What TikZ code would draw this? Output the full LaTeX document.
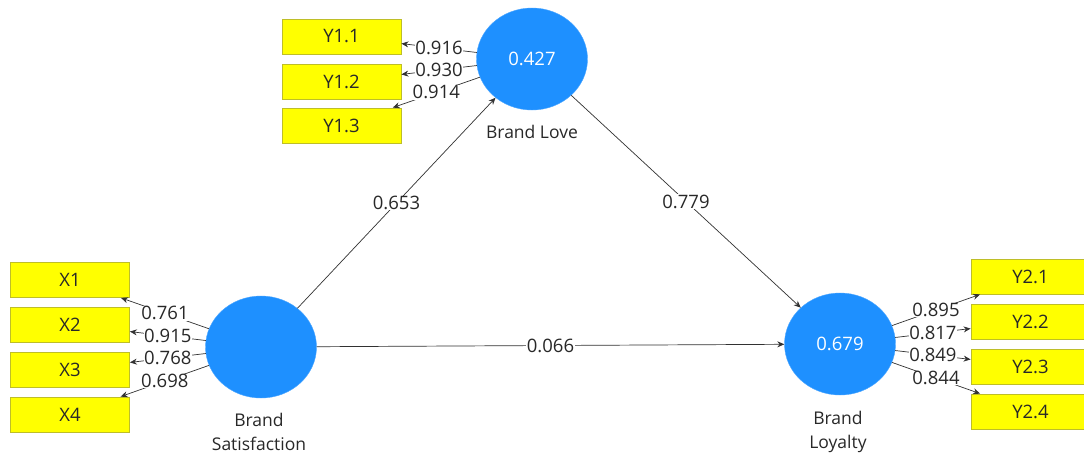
\documentclass[tikz,border=0pt]{standalone}
\usepackage{fontspec}
\setmainfont{Open Sans}
\usetikzlibrary{shapes.geometric,arrows.meta}
\definecolor{lvblue}{RGB}{30,144,255}
\definecolor{boxyellow}{RGB}{255,255,0}
\definecolor{boxborder}{RGB}{190,190,40}
\definecolor{linegray}{RGB}{50,50,50}
\definecolor{txtgray}{RGB}{40,40,40}
\tikzset{
  lv/.style={ellipse, fill=lvblue, draw=lvblue!80!white, minimum width=111pt, minimum height=102pt, inner sep=0pt, text=white, font=\fontsize{18.5}{22}\selectfont},
  mv/.style={rectangle, fill=boxyellow, draw=boxborder, line width=0.8pt, minimum width=119pt, minimum height=35pt, inner sep=0pt, text=txtgray, font=\fontsize{18.5}{22}\selectfont},
  lvname/.style={text=txtgray, align=center, font=\fontsize{17.5}{24}\selectfont},
  conn/.style={draw=linegray, line width=0.7pt, -{Stealth[length=7pt,width=6pt]}},
  lbl/.style={fill=white, inner sep=0.5pt, text=txtgray, font=\fontsize{18.5}{22}\selectfont}
}
\begin{document}
\begin{tikzpicture}[x=1pt,y=-1pt]
\useasboundingbox[fill=white] (0,0) rectangle (1084,456);
% latent variables
\node[lv] (BLove) at (532,59) {0.427};
\node[lv] (BSat) at (261,347) {};
\node[lv] (BLoy) at (840,344) {0.679};
\node[lvname] (nLove) at (532,132) {Brand Love};
\node[lvname] (nSat) at (259,432) {Brand\\Satisfaction};
\node[lvname] (nLoy) at (838,432) {Brand\\Loyalty};
% indicators
\node[mv] (Y11) at (341.5,36.5) {Y1.1};
\node[mv] (Y12) at (341.5,81.5) {Y1.2};
\node[mv] (Y13) at (341.5,125.5) {Y1.3};
\node[mv] (X1) at (70,280) {X1};
\node[mv] (X2) at (70,324.5) {X2};
\node[mv] (X3) at (70,369.5) {X3};
\node[mv] (X4) at (70,414.5) {X4};
\node[mv] (Y21) at (1030.5,276.5) {Y2.1};
\node[mv] (Y22) at (1030.5,321.5) {Y2.2};
\node[mv] (Y23) at (1030.5,366.5) {Y2.3};
\node[mv] (Y24) at (1030.5,411.5) {Y2.4};
% structural paths
\draw[conn] (BSat) -- node[lbl]{0.653} (BLove);
\draw[conn] (BLove) -- node[lbl]{0.779} (BLoy);
\draw[conn] (BSat) -- node[lbl]{0.066} (BLoy);
% loadings
\draw[conn] (BLove) -- node[lbl]{0.916} (Y11);
\draw[conn] (BLove) -- node[lbl]{0.930} (Y12);
\draw[conn] (BLove) -- node[lbl]{0.914} (Y13);
\draw[conn] (BSat) -- node[lbl]{0.761} (X1);
\draw[conn] (BSat) -- node[lbl]{0.915} (X2);
\draw[conn] (BSat) -- node[lbl]{0.768} (X3);
\draw[conn] (BSat) -- node[lbl]{0.698} (X4);
\draw[conn] (BLoy) -- node[lbl]{0.895} (Y21);
\draw[conn] (BLoy) -- node[lbl]{0.817} (Y22);
\draw[conn] (BLoy) -- node[lbl]{0.849} (Y23);
\draw[conn] (BLoy) -- node[lbl]{0.844} (Y24);
\end{tikzpicture}
\end{document}
